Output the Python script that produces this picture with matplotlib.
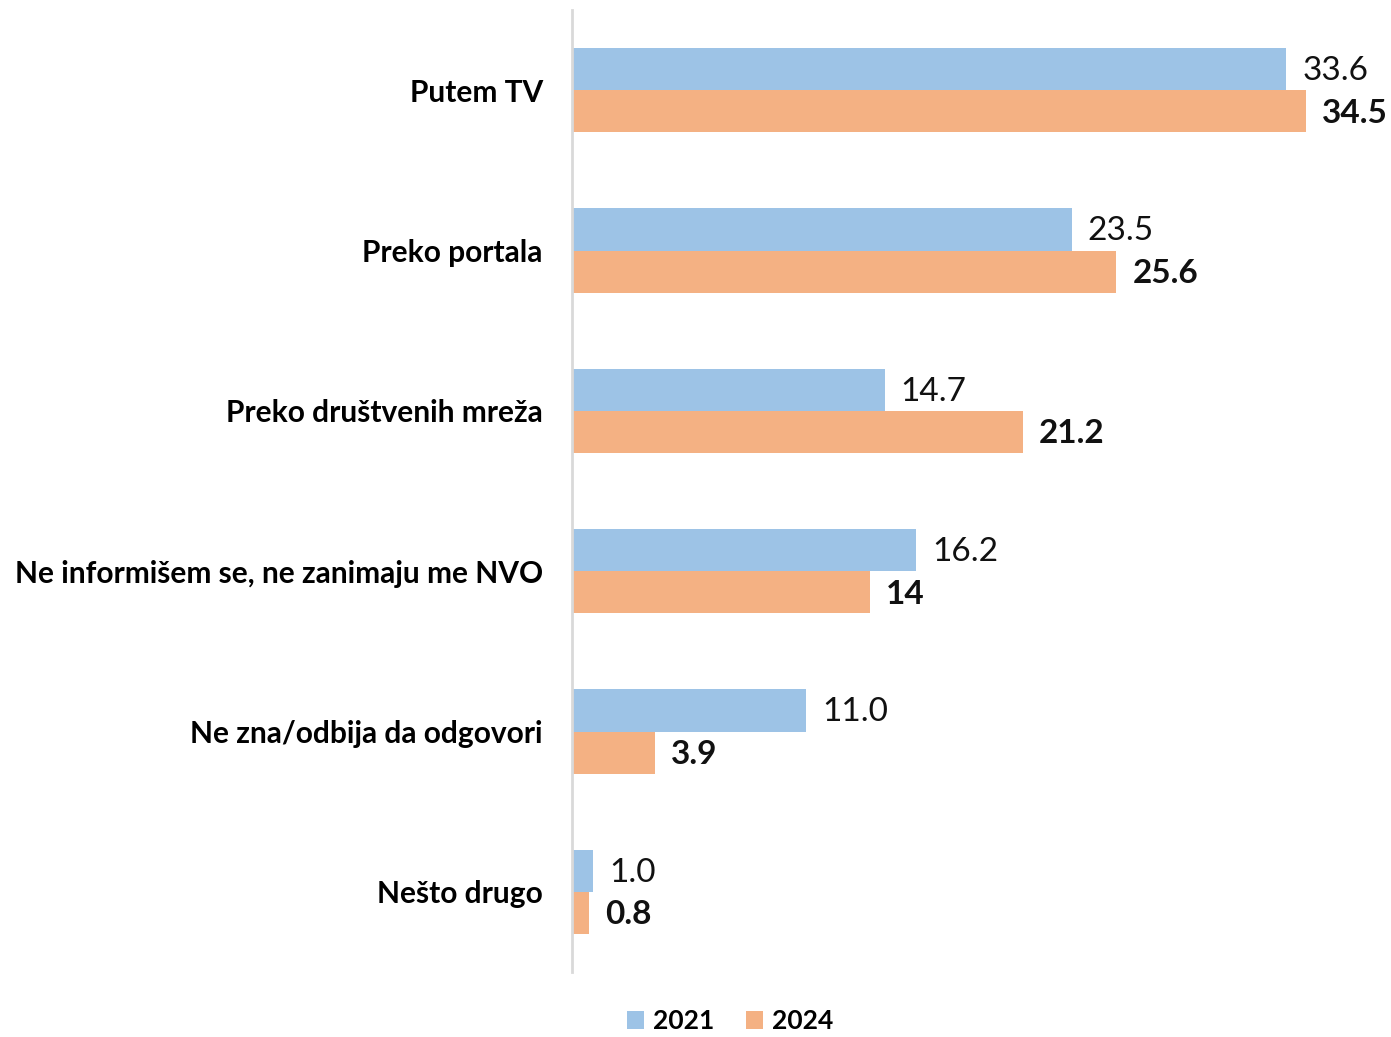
import matplotlib
matplotlib.use("Agg")
import matplotlib.pyplot as plt
import numpy as np

categories = [
    "Putem TV",
    "Preko portala",
    "Preko društvenih mreža",
    "Ne informišem se, ne zanimaju me NVO",
    "Ne zna/odbija da odgovori",
    "Nešto drugo",
]
values_2021 = [33.6, 23.5, 14.7, 16.2, 11.0, 1.0]
values_2024 = [34.5, 25.6, 21.2, 14, 3.9, 0.8]
labels_2021 = ["33.6", "23.5", "14.7", "16.2", "11.0", "1.0"]
labels_2024 = ["34.5", "25.6", "21.2", "14", "3.9", "0.8"]
series_names = ["2021", "2024"]

blue = "#9DC3E6"
orange = "#F4B183"

plt.rcParams["font.family"] = ["Lato", "DejaVu Sans"]

fig = plt.figure(figsize=(13.91, 10.37), dpi=100)
ax = fig.add_axes([572 / 1391, 1 - 972 / 1037, (1380 - 572) / 1391, 962 / 1037])

y = np.arange(len(categories))
h = 0.262
b1 = ax.barh(y - h / 2, values_2021, height=h, color=blue, label=series_names[0])
b2 = ax.barh(y + h / 2, values_2024, height=h, color=orange, label=series_names[1])

for i in range(len(categories)):
    ax.text(values_2021[i] + 0.75, y[i] - h / 2 + 0.012, labels_2021[i], va="center", ha="left",
            fontsize=24, color="#111111")
    ax.text(values_2024[i] + 0.75, y[i] + h / 2 + 0.012, labels_2024[i], va="center", ha="left",
            fontsize=24, fontweight="bold", color="#111111")

ax.set_xlim(0, 38.0)
ax.set_ylim(len(categories) - 0.5, -0.5)
ax.set_yticks(y)
ax.set_yticklabels(categories, fontsize=21.5, fontweight="bold")
ax.tick_params(axis="y", length=0, pad=21)
ax.set_xticks([])

for s in ["top", "right", "bottom"]:
    ax.spines[s].set_visible(False)
ax.spines["left"].set_color("#D9D9D9")
ax.spines["left"].set_linewidth(2)

leg = fig.legend(handles=[b1, b2], labels=series_names, loc="center", ncol=2,
                 bbox_to_anchor=(730 / 1391, 1 - 1021 / 1037), frameon=False,
                 prop={"size": 19, "weight": "bold"}, handlelength=0.65, handleheight=0.65,
                 handletextpad=0.35, columnspacing=1.2, borderpad=0.1)

fig.savefig("out.png", dpi=100)
